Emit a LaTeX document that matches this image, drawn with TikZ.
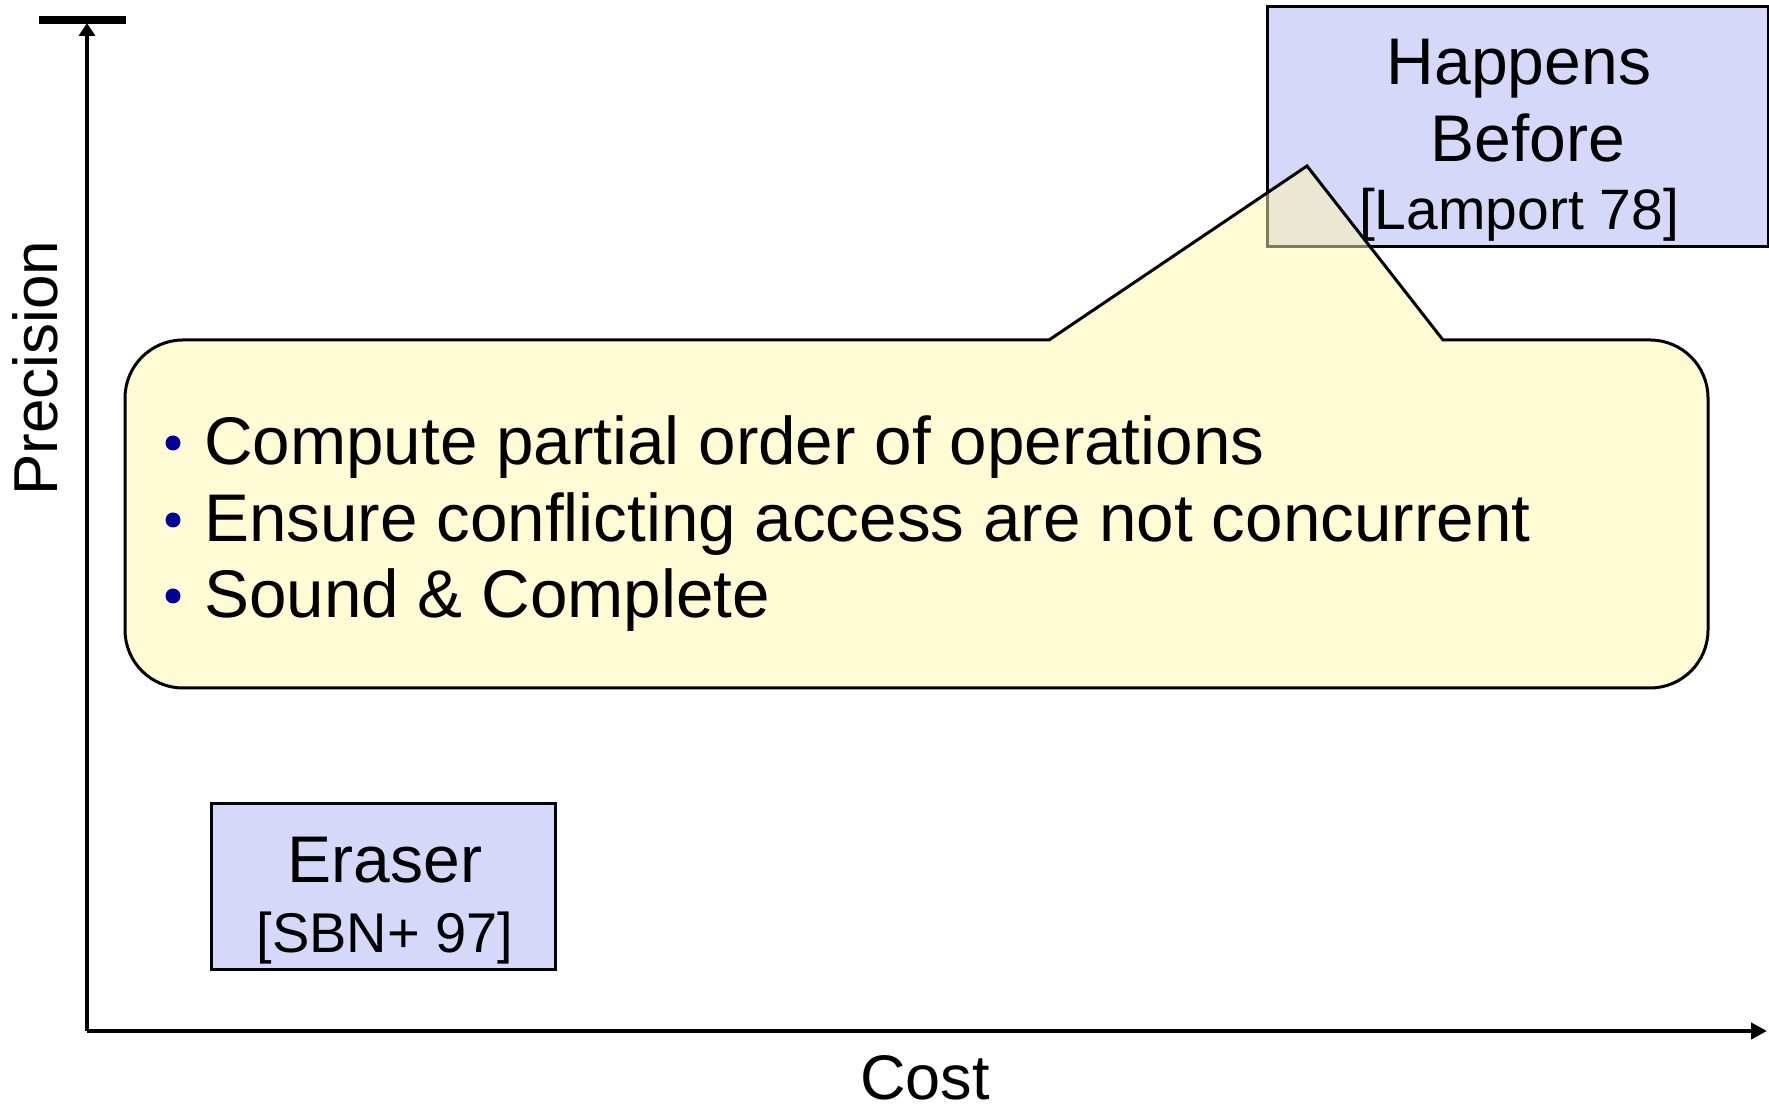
\documentclass[tikz,border=0pt]{standalone}
\usepackage{fontspec}
\setmainfont{Liberation Sans}
\usetikzlibrary{arrows.meta}
\definecolor{boxfill}{RGB}{214,216,250}
\definecolor{calloutfill}{RGB}{255,249,171}
\definecolor{bulletblue}{RGB}{0,0,150}
\tikzset{
  axisline/.style={line width=4pt, draw=black},
  refbox/.style={draw=black, line width=3pt, fill=boxfill, inner sep=0pt},
  bigtxt/.style={inner sep=0pt, font=\fontsize{66}{79}\selectfont},
  reftxt/.style={inner sep=0pt, font=\fontsize{57}{68}\selectfont},
  itemtxt/.style={inner sep=0pt, anchor=base west, font=\fontsize{67.4}{77}\selectfont},
  bulletdot/.style={circle, fill=bulletblue, minimum size=15pt, inner sep=0pt},
}
\begin{document}
\begin{tikzpicture}[x=1pt,y=1pt]
\useasboundingbox (0,0) rectangle (1769,1110);
% top bar
\fill (39,1086) rectangle (126,1094);
% axes
\coordinate (O) at (87,79);
\coordinate (ytop) at (87,1087);
\coordinate (xend) at (1767,79);
\draw[axisline, -{Triangle[length=13pt,width=16pt]}] (O) -- (ytop);
\draw[axisline, -{Triangle[length=16pt,width=16pt]}] (O) -- (xend);
\node[inner sep=0pt, anchor=base, rotate=90, font=\fontsize{62}{74}\selectfont] (prec) at (57,742) {Precision};
\node[inner sep=0pt, anchor=base, font=\fontsize{63}{75}\selectfont] (cost) at (925,10) {Cost};
% Happens Before box
\node[refbox, minimum width=501pt, minimum height=240pt] (hb) at (1517.5,983) {};
\node[bigtxt, anchor=base] (hb1) at (1519,1025) {Happens};
\node[bigtxt, anchor=base] (hb2) at (1528,948) {Before};
\node[reftxt, anchor=base] (hb3) at (1519,880) {[Lamport 78]};
% Eraser box
\node[refbox, minimum width=344pt, minimum height=166pt] (er) at (383,223) {};
\node[bigtxt, anchor=base] (er1) at (385,227) {Eraser};
\node[reftxt, anchor=base, font=\fontsize{56}{67}\selectfont] (er2) at (385,157) {[SBN+ 97]};
% callout
\draw[line width=3pt, draw=black, fill=calloutfill, fill opacity=0.5]
  (1049,770) -- (1307,944) -- (1443,770) -- (1650,770)
  arc[start angle=90, end angle=0, radius=58] -- (1708,480)
  arc[start angle=0, end angle=-90, radius=58] -- (183,422)
  arc[start angle=270, end angle=180, radius=58] -- (125,712)
  arc[start angle=180, end angle=90, radius=58] -- cycle;
\node[bulletdot] (b1) at (173,667) {};
\node[bulletdot] (b2) at (173,590) {};
\node[bulletdot] (b3) at (173,514) {};
\node[itemtxt] (t1) at (204,645) {Compute partial order of operations};
\node[itemtxt] (t2) at (204,568) {Ensure conflicting access are not concurrent};
\node[itemtxt] (t3) at (204,492) {Sound \& Complete};
\end{tikzpicture}
\end{document}
